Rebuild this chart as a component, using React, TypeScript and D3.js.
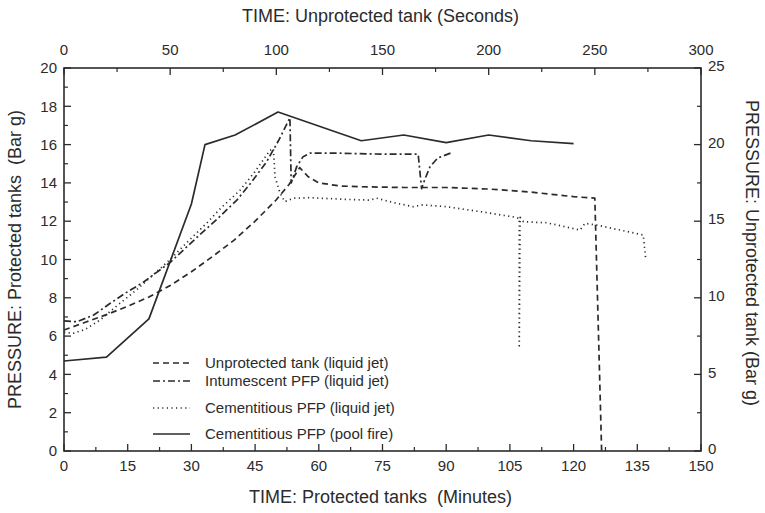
import React from "react";
import * as d3 from "d3";

// Unprotected tank (liquid jet): seconds (top axis), bar g (right axis)
const unprotSec = [0, 10, 20, 30, 40, 50, 60, 70, 80, 90, 100, 106, 111, 115, 120, 130, 140, 160, 180, 200, 220, 240, 250, 253.2];
const unprotBar = [7.9, 8.4, 8.9, 9.45, 10.05, 10.8, 11.7, 12.7, 13.75, 15.0, 16.4, 17.4, 18.5, 17.9, 17.5, 17.3, 17.25, 17.2, 17.2, 17.1, 16.9, 16.6, 16.5, 0];

// Intumescent PFP (liquid jet): minutes, bar g (left axis)
const intumMin = [0, 3, 7, 10.8, 14.5, 18.6, 25, 32, 36, 40.7, 44, 47.7, 50.5, 53.2, 53.5, 54.8, 56.3, 57.9, 65, 75, 83.4, 84.2, 85, 86.2, 88, 91.3];
const intumBar = [6.8, 6.75, 7.1, 7.7, 8.25, 8.8, 9.85, 11.3, 12.1, 13.1, 14.0, 15.1, 16.2, 17.4, 14.0, 14.85, 15.37, 15.55, 15.55, 15.5, 15.5, 13.7, 14.2, 14.85, 15.3, 15.58];

// Cementitious PFP (liquid jet)
const cemJetMin = [0, 2.2, 5, 8.5, 12, 17, 21, 25, 29, 33.6, 37, 41.4, 45, 48.5, 49.3, 49.7, 50.9, 52, 54, 58, 65, 72, 73.6, 78, 82.2, 84.5, 90, 98, 105.7, 107.2, 107.2, 107.4, 108.2, 113.6, 121.5, 122.7, 125.4, 130.9, 136.4, 137];
const cemJetBar = [6.2, 6.15, 6.35, 6.84, 7.5, 8.4, 9.2, 10.0, 10.9, 11.9, 12.7, 13.6, 14.6, 15.7, 15.8, 14.3, 13.45, 13.02, 13.2, 13.23, 13.15, 13.1, 13.2, 12.95, 12.76, 12.85, 12.76, 12.5, 12.23, 12.15, 5.5, 12.2, 11.97, 11.92, 11.54, 11.89, 11.8, 11.54, 11.28, 10.0];

// Cementitious PFP (pool fire)
const poolMin = [0, 10, 20, 30, 33.2, 40.3, 50.4, 70, 80, 90, 100, 110, 120];
const poolBar = [4.7, 4.9, 6.9, 12.9, 16.0, 16.5, 17.7, 16.2, 16.5, 16.1, 16.5, 16.2, 16.05];

const bottomTicks = [0, 15, 30, 45, 60, 75, 90, 105, 120, 135, 150];
const topTicks = [0, 50, 100, 150, 200, 250, 300];
const leftTicks = [0, 2, 4, 6, 8, 10, 12, 14, 16, 18, 20];
const rightTicks = [0, 5, 10, 15, 20, 25];

const legendLabels = [
  "Unprotected tank (liquid jet)",
  "Intumescent PFP (liquid jet)",
  "Cementitious PFP (liquid jet)",
  "Cementitious PFP (pool fire)",
];

const W = 765, H = 513;
const L = 64, R = 701, T = 68, B = 451;
const INK = "#2b2b2b";
const FONT = "'Liberation Sans', Arial, sans-serif";

export default function App() {
  const xMin = d3.scaleLinear().domain([0, 150]).range([L, R]);
  const xSec = d3.scaleLinear().domain([0, 300]).range([L, R]);
  const yL = d3.scaleLinear().domain([0, 20]).range([B, T]);
  const yR = d3.scaleLinear().domain([0, 25]).range([B, T]);

  const lineMin = d3.line<[number, number]>().x((d) => xMin(d[0])).y((d) => yL(d[1]));
  const lineSec = d3.line<[number, number]>().x((d) => xSec(d[0])).y((d) => yR(d[1]));

  const zip = (a: number[], b: number[]) => a.map((v, i) => [v, b[i]] as [number, number]);

  const styles = [
    { dash: "6,4", width: 1.7 },
    { dash: "7,3,2,3", width: 1.7 },
    { dash: "1.2,3.4", width: 1.7 },
    { dash: "none", width: 1.7 },
  ];

  const paths = [
    lineSec(zip(unprotSec, unprotBar)),
    lineMin(zip(intumMin, intumBar)),
    lineMin(zip(cemJetMin, cemJetBar)),
    lineMin(zip(poolMin, poolBar)),
  ];

  const minorBottom = d3.range(7.5, 150, 15);
  const minorTop = d3.range(25, 300, 50);
  const minorLeft = d3.range(1, 20, 2);
  const minorRight = d3.range(2.5, 25, 5);

  const fs = 15;
  const tfs = 18;
  const legendY = [363, 381, 408, 434];

  return (
    <svg width={W} height={H} style={{ position: "absolute", left: 0, top: 0, background: "#fff" }} fontFamily={FONT}>
      <rect x={0} y={0} width={W} height={H} fill="#fff" />
      {/* frame */}
      <rect x={L} y={T} width={R - L} height={B - T} fill="none" stroke={INK} strokeWidth={1.6} />

      {/* bottom ticks */}
      {bottomTicks.map((t) => (
        <g key={"b" + t}>
          <line x1={xMin(t)} x2={xMin(t)} y1={B} y2={B - 7} stroke={INK} strokeWidth={1.3} />
          <text x={xMin(t)} y={B + 20} textAnchor="middle" fontSize={fs} fill={INK}>{t}</text>
        </g>
      ))}
      {minorBottom.map((t) => (
        <line key={"bm" + t} x1={xMin(t)} x2={xMin(t)} y1={B} y2={B - 4} stroke={INK} strokeWidth={1.2} />
      ))}
      {/* top ticks */}
      {topTicks.map((t) => (
        <g key={"t" + t}>
          <line x1={xSec(t)} x2={xSec(t)} y1={T} y2={T + 7} stroke={INK} strokeWidth={1.3} />
          <text x={xSec(t)} y={T - 13} textAnchor="middle" fontSize={fs} fill={INK}>{t}</text>
        </g>
      ))}
      {minorTop.map((t) => (
        <line key={"tm" + t} x1={xSec(t)} x2={xSec(t)} y1={T} y2={T + 4} stroke={INK} strokeWidth={1.2} />
      ))}
      {/* left ticks */}
      {leftTicks.map((t) => (
        <g key={"l" + t}>
          <line x1={L} x2={L + 7} y1={yL(t)} y2={yL(t)} stroke={INK} strokeWidth={1.3} />
          <text x={L - 7} y={yL(t)} dy="0.35em" textAnchor="end" fontSize={fs} fill={INK}>{t}</text>
        </g>
      ))}
      {minorLeft.map((t) => (
        <line key={"lm" + t} x1={L} x2={L + 4} y1={yL(t)} y2={yL(t)} stroke={INK} strokeWidth={1.2} />
      ))}
      {/* right ticks */}
      {rightTicks.map((t) => (
        <g key={"r" + t}>
          <line x1={R} x2={R - 7} y1={yR(t)} y2={yR(t)} stroke={INK} strokeWidth={1.3} />
          <text x={R + 7} y={yR(t) - 2} dy="0.35em" textAnchor="start" fontSize={fs} fill={INK}>{t}</text>
        </g>
      ))}
      {minorRight.map((t) => (
        <line key={"rm" + t} x1={R} x2={R - 4} y1={yR(t)} y2={yR(t)} stroke={INK} strokeWidth={1.2} />
      ))}

      {/* axis titles */}
      <text x={(L + R) / 2 - 2} y={22} textAnchor="middle" fontSize={tfs} fill={INK}>TIME: Unprotected tank (Seconds)</text>
      <text x={(L + R) / 2 - 2} y={503} textAnchor="middle" fontSize={tfs} fill={INK} style={{ whiteSpace: "pre" }}>TIME: Protected tanks  (Minutes)</text>
      <text transform={`translate(21,${(T + B) / 2}) rotate(-90)`} textAnchor="middle" fontSize={tfs} fill={INK} style={{ whiteSpace: "pre" }}>PRESSURE: Protected tanks  (Bar g)</text>
      <text transform={`translate(746,253) rotate(90)`} textAnchor="middle" fontSize={tfs} fill={INK}>PRESSURE: Unprotected tank (Bar g)</text>

      {/* series */}
      {paths.map((p, i) => (
        <path key={"p" + i} d={p || ""} fill="none" stroke={INK} strokeWidth={styles[i].width}
          strokeDasharray={styles[i].dash} strokeLinejoin="round" />
      ))}

      {/* legend */}
      {legendLabels.map((lab, i) => (
        <g key={"lg" + i}>
          <line x1={153} x2={190} y1={legendY[i]} y2={legendY[i]} stroke={INK} strokeWidth={styles[i].width}
            strokeDasharray={styles[i].dash} />
          <text x={205} y={legendY[i]} dy="0.35em" fontSize={fs} fill={INK}>{lab}</text>
        </g>
      ))}
    </svg>
  );
}
